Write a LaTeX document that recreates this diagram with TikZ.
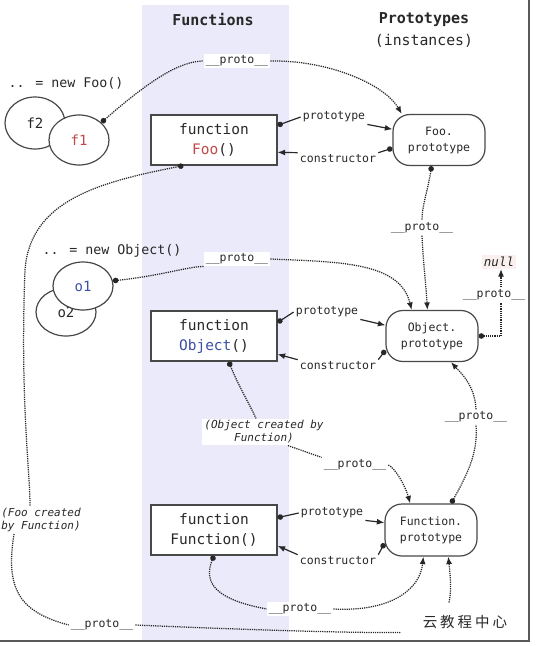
\documentclass[tikz,border=0pt]{standalone}
\usepackage{fontspec}
\setmainfont{DejaVu Sans Mono}
\newfontfamily\cjk{Noto Sans CJK SC}
\usepackage{tikz}
\usetikzlibrary{shapes, positioning, arrows.meta, calc}

\definecolor{bandblue}{RGB}{234,234,250}
\definecolor{fooRed}{RGB}{192,72,72}
\definecolor{objBlue}{RGB}{60,80,165}
\definecolor{nullPink}{RGB}{250,240,240}
\definecolor{ink}{RGB}{40,40,40}

\begin{document}
\begin{tikzpicture}[x=1pt, y=-1pt, every node/.style={text=ink},
		>={Latex[length=7.5pt,width=6pt]},
		fbox/.style={draw=ink!85, line width=1.2pt, fill=white, minimum width=126pt, minimum height=50pt, align=center, font=\fontsize{14.5}{20}\selectfont},
		pbox/.style={draw=ink!85, line width=1.2pt, fill=white, rounded corners=17pt, minimum width=92pt, minimum height=51pt, align=center, font=\fontsize{11.5}{16}\selectfont},
		inst/.style={draw=ink!85, line width=1.2pt, fill=white, ellipse, minimum width=60pt, minimum height=50pt, inner sep=0pt, font=\fontsize{14}{16}\selectfont},
		lbl/.style={fill=white, inner sep=2pt, font=\fontsize{11.5}{13}\selectfont},
		note/.style={fill=white, inner sep=2pt, align=center, font=\fontsize{11}{13}\selectfont\itshape},
		protoline/.style={black!85, line width=1.25pt, dash pattern=on 1.2pt off 1pt},
		link/.style={ink, line width=1.2pt}]
				\useasboundingbox (0,0) rectangle (536,646);
				\fill[bandblue] (142,5) rectangle (289,640);
				
				% titles
				\node[font=\fontsize{15}{18}\selectfont\bfseries] (ttlF) at (213,20) {Functions};
				\node[font=\fontsize{15}{18}\selectfont\bfseries] (ttlP) at (424,20) {Prototypes};
				\node[font=\fontsize{14.8}{18}\selectfont] (ttlI) at (424,41) {(instances)};
				
				% Foo
				\node[fbox] (fooF) at (214,140) {function\\\textcolor{fooRed}{Foo}()};
				\node[pbox] (fooP) at (439,140) {Foo.\\prototype};
				\node[inst, minimum height=52pt] (f2) at (35,123) {f2};
				\node[inst, text=fooRed] (f1) at (79,140) {f1};
				\node[font=\fontsize{13.3}{16}\selectfont] (newFoo) at (66,83) {.. = new Foo()};
				\node[lbl] (pFoo) at (237,61) {\_\_proto\_\_};
				\node[lbl] (ptFoo) at (334,117) {prototype};
				\node[lbl] (ctFoo) at (338,159) {constructor};
				
				% Object
				\node[fbox] (objF) at (214,336) {function\\\textcolor{objBlue}{Object}()};
				\node[pbox] (objP) at (432,336) {Object.\\prototype};
				\node[inst, minimum height=48pt] (o2) at (66,312) {o2};
				\node[inst, minimum height=48pt, text=objBlue] (o1) at (83,286) {o1};
				\node[font=\fontsize{13.3}{16}\selectfont] (newObj) at (112,251) {.. = new Object()};
				\node[lbl] (pObj) at (237,259) {\_\_proto\_\_};
				\node[lbl] (pFooP) at (422,228) {\_\_proto\_\_};
				\node[fill=nullPink, inner sep=2pt, font=\fontsize{12.5}{14}\selectfont\itshape] (nullN) at (499,262) {null};
				\node[lbl] (pNull) at (494,295) {\_\_proto\_\_};
				\node[lbl] (ptObj) at (327,312) {prototype};
				\node[lbl] (ctObj) at (338,366) {constructor};
				
				% Function
				\node[fbox] (funF) at (214,530) {function\\Function()};
				\node[pbox, minimum height=52pt] (funP) at (431,530) {Function.\\prototype};
				\node[note] (objCr) at (264,432) {(Object created by\\Function)};
				\node[lbl] (pObjF) at (355,465) {\_\_proto\_\_};
				\node[lbl] (pFunP) at (476,417) {\_\_proto\_\_};
				\node[note] (fooCr) at (41,520) {(Foo created\\by Function)};
				\node[lbl] (pFooB) at (102,625) {\_\_proto\_\_};
				\node[lbl] (pFunB) at (300,609) {\_\_proto\_\_};
				\node[lbl] (ptFun) at (332,513) {prototype};
				\node[lbl] (ctFun) at (338,561) {constructor};
				
				% prototype / constructor
				\draw[link, {Circle[length=5.5pt]}-] (fooF.13) -- (ptFoo.west);
				\draw[link, ->] (ptFoo.south east) -- (fooP.167);
				\draw[link, {Circle[length=5.5pt]}-] (fooP.190) -- (ctFoo.north east);
				\draw[link, ->] (ctFoo.north west) -- (fooF.-11);
				\draw[link, {Circle[length=5.5pt]}-] (objF.12) -- (ptObj.west);
				\draw[link, ->] (ptObj.south east) -- (objP.167);
				\draw[link, {Circle[length=5.5pt]}-] (objP.197) -- (ctObj.north east);
				\draw[link, ->] (ctObj.north west) -- (objF.-16);
				\draw[link, {Circle[length=5.5pt]}-] (funF.11) -- (ptFun.west);
				\draw[link, ->] (ptFun.south east) -- (funP.171);
				\draw[link, {Circle[length=5.5pt]}-] (funP.196) -- (ctFun.north east);
				\draw[link, ->] (ctFun.north west) -- (funF.-14);
				
				% __proto__ chains
				\draw[protoline, {Circle[length=5.5pt]}-] (f1.38) .. controls (150,80) and (180,61) .. (pFoo.west);
				\draw[protoline, ->] (pFoo.east) .. controls (330,60) and (385,85) .. (fooP.145);
				
				\draw[protoline, {Circle[length=5.5pt]}-] (fooP.254) .. controls (428,190) and (422,205) .. (pFooP.north);
				\draw[protoline, ->] (pFooP.south) .. controls (423,260) and (426,285) .. (objP.100);
				
				\draw[protoline, {Circle[length=5.5pt]}-] (o1.10) .. controls (160,276) and (190,266) .. (pObj.south west);
				\draw[protoline, ->] (pObj.east) .. controls (340,262) and (400,262) .. (objP.128);
				
				\coordinate (nk) at (501,336);
				\draw[protoline, {Circle[length=5.5pt]}-] (objP.east) -- (nk) -- (nk |- pNull.south);
				\draw[protoline, ->] (nk |- pNull.north) -- (nk |- nullN.south);
				
				\draw[protoline, {Circle[length=5.5pt]}-] (objF.300) .. controls (238,385) and (250,405) .. ($(objCr.north)+(-8,0)$);
				\draw[protoline] ($(objCr.south)+(24,0)$) .. controls (305,452) .. (pObjF.north west);
				\draw[protoline, ->] (pObjF.east) .. controls (395,468) and (405,485) .. (funP.128);
				
				\draw[protoline, {Circle[length=5.5pt]}-] (funP.53) .. controls (470,470) and (478,450) .. (pFunP.south);
				\draw[protoline, ->] (pFunP.north) .. controls (475,385) and (460,372) .. (objP.-54);
				
				\draw[protoline, {Circle[length=5.5pt]}-] (funF.south) .. controls (200,590) and (230,602) .. (pFunB.west);
				\draw[protoline, ->] (pFunB.east) .. controls (390,612) and (420,590) .. (funP.254);
				
				\draw[protoline, {Circle[length=5.5pt]}-] (fooF.220) .. controls (100,182) and (30,200) .. (25,270) .. controls (20,400) and (30,470) .. ($(fooCr.north)+(-11,0)$);
				\draw[protoline] ($(fooCr.south)+(-27,0)$) .. controls (5,590) and (20,612) .. (pFooB.west);
				\draw[protoline, ->] (pFooB.east) .. controls (250,630) and (380,634) .. (410,632) .. controls (452,628) and (453,600) .. (funP.-57);
				
				% watermark and frame
				\node[fill=white, inner sep=0pt, minimum width=128pt, minimum height=38pt] (wm) at (465,622) {\cjk\fontsize{14.5}{18}\selectfont 云\hspace{3pt}教\hspace{3pt}程\hspace{3pt}中\hspace{3pt}心};
				\draw[black!65, line width=2pt] (529,0) -- (529,641) -- (0,641);
\end{tikzpicture}
\end{document}
